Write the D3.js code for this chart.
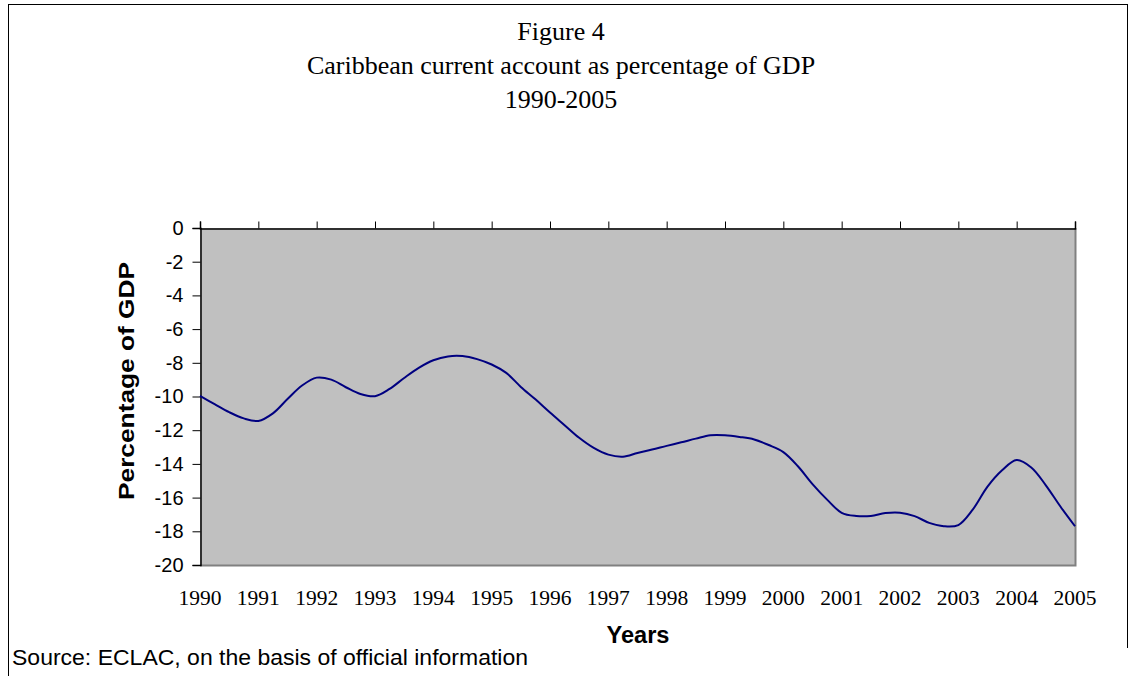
<!DOCTYPE html>
<html>
<head>
<meta charset="utf-8">
<script src="https://cdn.jsdelivr.net/npm/d3@7"></script>
<style>
  html, body { margin: 0; padding: 0; background: #ffffff; }
  svg { display: block; }
</style>
</head>
<body>
<svg id="chart" width="1130" height="676"></svg>
<script>
// Caribbean current account balance, % of GDP, quarterly readings 1990-2005
const quarters = d3.range(0, 61).map(k => 1990 + k / 4);
const currentAccount = [
  -9.97, -10.45, -10.93, -11.30, -11.45, -11.00, -10.15, -9.35,
  -8.88, -9.00, -9.45, -9.85, -9.98, -9.55, -8.90, -8.30,
  -7.85, -7.62, -7.60, -7.78, -8.10, -8.60, -9.43, -10.17,
  -10.95, -11.70, -12.45, -13.05, -13.45, -13.57, -13.35, -13.15,
  -12.93, -12.72, -12.50, -12.30, -12.30, -12.40, -12.55, -12.88,
  -13.30, -14.14, -15.20, -16.12, -16.90, -17.09, -17.09, -16.92,
  -16.90, -17.10, -17.50, -17.70, -17.63, -16.70, -15.35, -14.38,
  -13.77, -14.21, -15.27, -16.53, -17.70
];
const yearLabels = d3.range(1990, 2006);
const yTicks = d3.range(0, -21, -2);

const titleLines = [
  "Figure 4",
  "Caribbean current account as percentage of GDP",
  "1990-2005"
];

const svg = d3.select("#chart");

// outer frame
svg.append("line").attr("x1", 8.5).attr("x2", 8.5).attr("y1", 4).attr("y2", 676)
  .attr("stroke", "#000").attr("stroke-width", 1);
svg.append("line").attr("x1", 8).attr("x2", 1127.5).attr("y1", 4.5).attr("y2", 4.5)
  .attr("stroke", "#000").attr("stroke-width", 1);
svg.append("line").attr("x1", 1127.5).attr("x2", 1127.5).attr("y1", 4).attr("y2", 648)
  .attr("stroke", "#000").attr("stroke-width", 1);

// title
svg.append("g").selectAll("text").data(titleLines).join("text")
  .attr("x", 561)
  .attr("y", (d, i) => 40 + i * 34)
  .attr("text-anchor", "middle")
  .attr("font-family", "'Liberation Serif', 'Times New Roman', serif")
  .attr("font-size", 26)
  .attr("fill", "#000")
  .text(d => d);

const plotL = 200, plotR = 1075, plotT = 228, plotB = 565;
const x = d3.scaleLinear().domain([1990, 2005]).range([plotL, plotR]);
const y = d3.scaleLinear().domain([-20, 0]).range([plotB, plotT]);

// plot area
svg.append("rect")
  .attr("x", plotL).attr("y", plotT)
  .attr("width", plotR - plotL).attr("height", plotB - plotT)
  .attr("fill", "#c0c0c0");
svg.append("path")
  .attr("d", `M${plotL},${plotB + 0.5}H${plotR + 0.5}V${plotT}`)
  .attr("fill", "none").attr("stroke", "#808080").attr("stroke-width", 2);

// y axis
const yAxis = d3.axisLeft(y).tickValues(yTicks).tickSize(8).tickPadding(9).tickFormat(d3.format("d"));
const gy = svg.append("g").attr("transform", `translate(${plotL + 0.5},0)`).call(yAxis);
gy.select(".domain").attr("stroke", "#000").attr("stroke-width", 1.5);
gy.selectAll(".tick line").attr("stroke", "#000");
gy.selectAll(".tick text")
  .attr("font-family", "'Liberation Sans', Arial, sans-serif")
  .attr("font-size", 20)
  .attr("fill", "#000")
  .text(d => d === 0 ? "0" : "-" + Math.abs(d));

// x axis runs along the zero line at the top, with ticks pointing up
const xAxis = d3.axisTop(x).tickValues(yearLabels).tickSize(7).tickFormat("");
const gx = svg.append("g").attr("transform", `translate(0,${plotT + 0.5})`).call(xAxis);
gx.select(".domain").attr("stroke", "#000").attr("stroke-width", 1.5);
gx.selectAll(".tick line").attr("stroke", "#000");

// year labels below the plot
svg.append("g").selectAll("text").data(yearLabels).join("text")
  .attr("x", d => x(d))
  .attr("y", 605)
  .attr("text-anchor", "middle")
  .attr("font-family", "'Liberation Serif', 'Times New Roman', serif")
  .attr("font-size", 21.5)
  .attr("fill", "#000")
  .text(d => d);

// series line
const line = d3.line()
  .x((d, i) => x(quarters[i]))
  .y(d => y(d))
  .curve(d3.curveCatmullRom.alpha(0.5));
svg.append("path")
  .datum(currentAccount)
  .attr("d", line)
  .attr("fill", "none")
  .attr("stroke", "#000080")
  .attr("stroke-width", 2);

// axis titles
svg.append("text")
  .attr("transform", "translate(134,381) rotate(-90)")
  .attr("text-anchor", "middle")
  .attr("font-family", "'Liberation Sans', Arial, sans-serif")
  .attr("font-weight", "bold")
  .attr("font-size", 22)
  .attr("textLength", 238)
  .attr("lengthAdjust", "spacingAndGlyphs")
  .attr("fill", "#000")
  .text("Percentage of GDP");

svg.append("text")
  .attr("x", 638).attr("y", 643)
  .attr("text-anchor", "middle")
  .attr("font-family", "'Liberation Sans', Arial, sans-serif")
  .attr("font-weight", "bold")
  .attr("font-size", 23)
  .attr("textLength", 63)
  .attr("lengthAdjust", "spacingAndGlyphs")
  .attr("fill", "#000")
  .text("Years");

// source note
svg.append("text")
  .attr("x", 12).attr("y", 665)
  .attr("font-family", "'Liberation Sans', Arial, sans-serif")
  .attr("font-size", 22)
  .attr("textLength", 516)
  .attr("lengthAdjust", "spacingAndGlyphs")
  .attr("fill", "#000")
  .text("Source: ECLAC, on the basis of official information");
</script>
</body>
</html>
